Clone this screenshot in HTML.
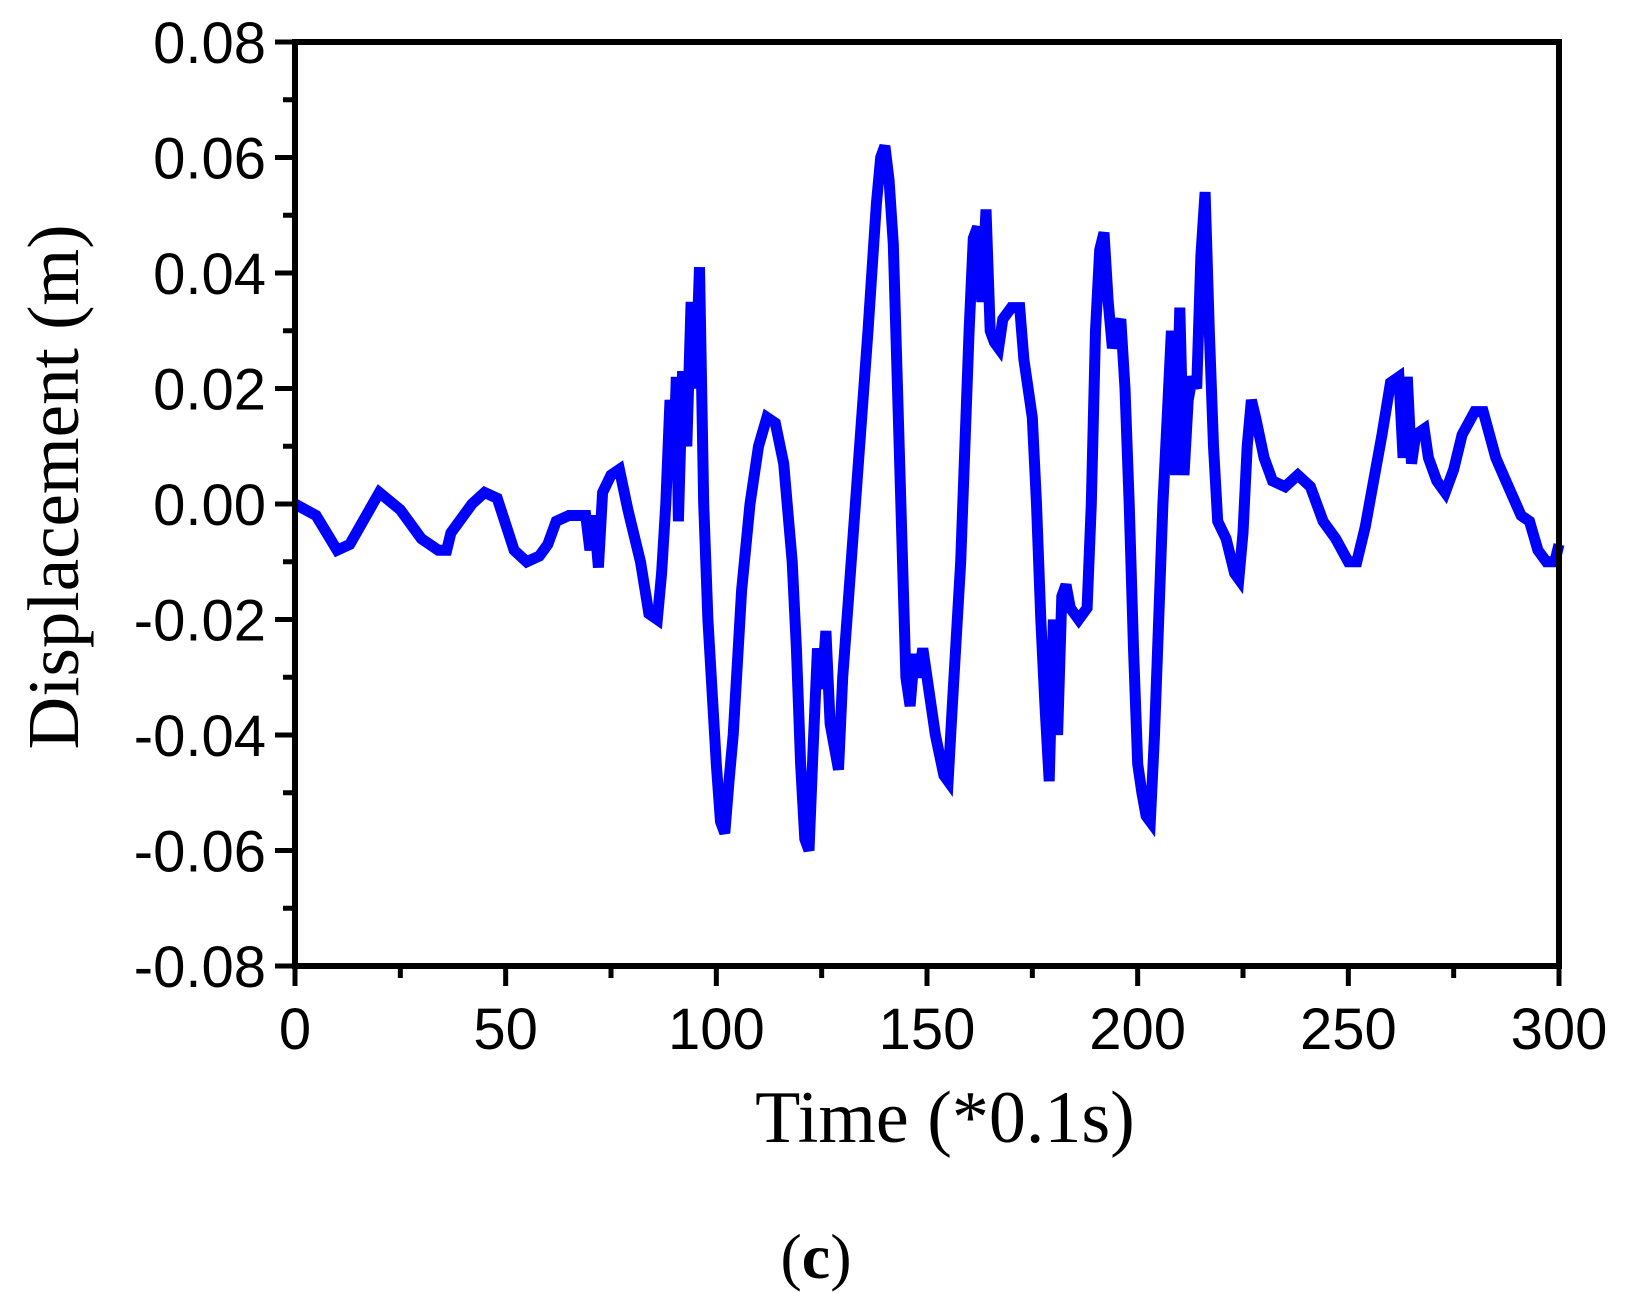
<!DOCTYPE html>
<html><head><meta charset="utf-8"><style>
html,body{margin:0;padding:0;background:#fff;}
svg{display:block;}
</style></head><body>
<svg id="chart" width="1626" height="1293" viewBox="0 0 1626 1293" xmlns="http://www.w3.org/2000/svg">
<g id="axes"></g>
<path id="series" fill="none" stroke="#0000ff" stroke-width="11" stroke-linejoin="miter" stroke-miterlimit="3"/>
<rect x="295" y="42" width="1264" height="924" fill="none" stroke="#000" stroke-width="6"/>
<text x="945" y="1142" text-anchor="middle" font-family="Liberation Serif, serif" font-size="74">Time (*0.1s)</text>
<text transform="translate(78,487) rotate(-90)" text-anchor="middle" font-family="Liberation Serif, serif" font-size="73">Displacement (m)</text>
<text x="816" y="1278" text-anchor="middle" font-family="Liberation Serif, serif" font-size="64"><tspan>(</tspan><tspan font-weight="bold">c</tspan><tspan>)</tspan></text>
</svg>
<script>
const times=[0,5,10,13,20,25,30,34,36,37,42,45,48,52,55,58,60,62,65,69,70,71,72,73,75,77,79,82,84,86,87,88,89,90,90.5,91,92,93,94,95,96,97,98,100,101,102,103,104,106,108,110,112,114,116,118,119,120,121,122,123,124,125,126,127,128,129,130,132,134,136,138,139,140,141,142,143,144,145,146,147,148,149,150,152,154,155,156,158,159,160,161,162,163,164,165,166,167,168,170,172,173,175,176,177,178,179,180,181,182,183,184,186,188,189,190,191,192,193,194,195,196,197,198,199,200,201,202,203,204,205,206,207,208,209,210,211,212,213,214,215,216,217,218,219,221,223,224,225,226,227,228,230,232,235,238,241,244,247,250,252,254,256,258,260,262,263,264,265,266,268,269,271,273,275,277,280,282,285,288,291,293,295,297,299,300];
const displacement=[0,-0.002,-0.008,-0.007,0.002,-0.001,-0.006,-0.008,-0.008,-0.005,0,0.002,0.001,-0.008,-0.010,-0.009,-0.007,-0.003,-0.002,-0.002,-0.008,-0.002,-0.011,0.002,0.005,0.006,-0.001,-0.010,-0.019,-0.020,-0.012,0,0.018,0.010,0.022,-0.003,0.023,0.010,0.035,0.020,0.041,0,-0.020,-0.045,-0.055,-0.057,-0.048,-0.040,-0.015,0,0.010,0.015,0.014,0.007,-0.010,-0.025,-0.045,-0.058,-0.060,-0.042,-0.025,-0.032,-0.022,-0.038,-0.042,-0.046,-0.030,-0.010,0.010,0.030,0.052,0.060,0.062,0.056,0.045,0.020,-0.005,-0.030,-0.035,-0.026,-0.030,-0.025,-0.030,-0.040,-0.047,-0.048,-0.035,-0.010,0.010,0.030,0.046,0.048,0.035,0.051,0.030,0.028,0.027,0.032,0.034,0.034,0.025,0.015,0,-0.020,-0.035,-0.048,-0.020,-0.040,-0.016,-0.014,-0.018,-0.020,-0.018,0,0.030,0.044,0.047,0.035,0.027,0.030,0.032,0.020,0,-0.025,-0.045,-0.050,-0.054,-0.055,-0.040,-0.020,0,0.015,0.030,0.005,0.034,0.005,0.018,0.022,0.020,0.043,0.054,0.030,0.010,-0.003,-0.006,-0.012,-0.013,-0.005,0.010,0.018,0.015,0.008,0.004,0.003,0.005,0.003,-0.003,-0.006,-0.010,-0.010,-0.004,0.004,0.012,0.021,0.022,0.008,0.022,0.007,0.012,0.013,0.008,0.004,0.002,0.006,0.012,0.016,0.016,0.008,0.003,-0.002,-0.003,-0.008,-0.010,-0.010,-0.007];
const xTicks=[0,50,100,150,200,250,300];
const yTicks=[-0.08,-0.06,-0.04,-0.02,0,0.02,0.04,0.06,0.08];
const yTickLabels=["-0.08","-0.06","-0.04","-0.02","0.00","0.02","0.04","0.06","0.08"];

const X0=295,X1=1559,Y0=966,Y1=42;
function sx(t){return X0+(t-0)/(300-0)*(X1-X0);}
function sy(v){return Y0-(v+0.08)/0.16*(Y0-Y1);}
const NS="http://www.w3.org/2000/svg";
const axes=document.getElementById('axes');
function line(x1,y1,x2,y2,w,name){
  const l=document.createElementNS(NS,'line');
  l.setAttribute('x1',x1);l.setAttribute('y1',y1);l.setAttribute('x2',x2);l.setAttribute('y2',y2);
  l.setAttribute('stroke','#000');l.setAttribute('stroke-width',w);
  
  
  axes.appendChild(l);
}
function text(x,y,s,anchor,name){
  const t=document.createElementNS(NS,'text');
  t.setAttribute('x',x);t.setAttribute('y',y);t.setAttribute('text-anchor',anchor);
  t.setAttribute('font-family','Liberation Sans, sans-serif');t.setAttribute('font-size','58');
  t.textContent=s;
  
  
  axes.appendChild(t);
}
xTicks.forEach((t,i)=>{
  line(sx(t),Y0,sx(t),Y0+20,5,'x-major-tick');
  text(sx(t),Y0+83,String(t),'middle','x-tick-label');
  if(i<xTicks.length-1){const m=(t+xTicks[i+1])/2;line(sx(m),Y0,sx(m),Y0+12,5,'x-minor-tick');}
});
yTicks.forEach((v,i)=>{
  line(X0-20,sy(v),X0,sy(v),5,'y-major-tick');
  text(X0-29,sy(v)+21,yTickLabels[i],'end','y-tick-label');
  if(i<yTicks.length-1){const m=(v+yTicks[i+1])/2;line(X0-12,sy(m),X0,sy(m),5,'y-minor-tick');}
});
let d='';
times.forEach((t,i)=>{d+=(i?'L':'M')+sx(t).toFixed(1)+','+sy(displacement[i]).toFixed(1);});
document.getElementById('series').setAttribute('d',d);
</script>
</body></html>
